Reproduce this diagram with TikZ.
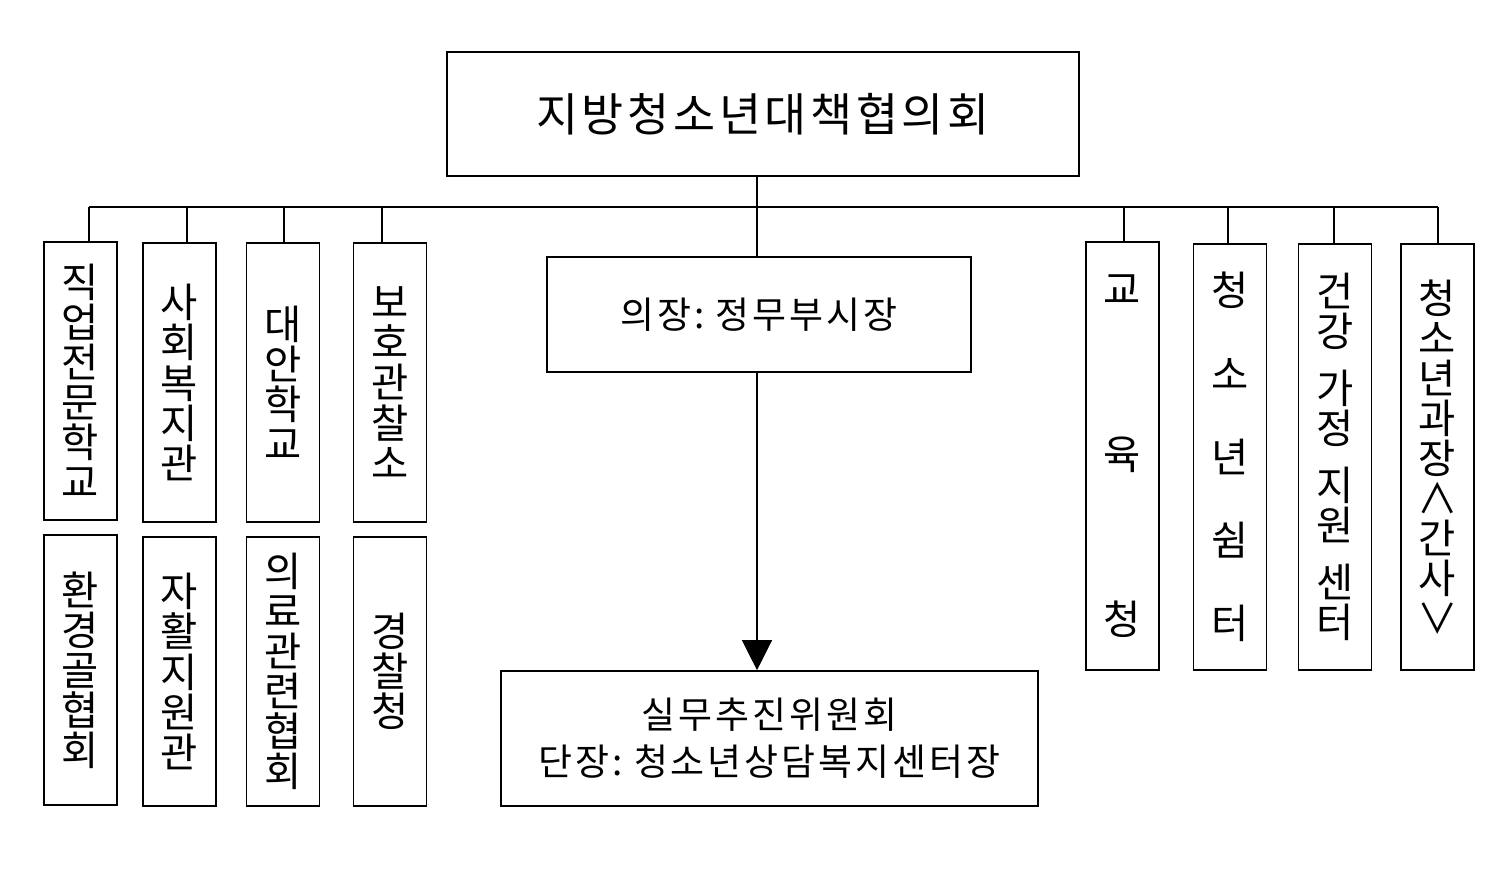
\documentclass[tikz,border=0pt]{standalone}
\usepackage{fontspec}
\newfontfamily\kr{Noto Sans CJK KR}
\newfontfamily\krwide[LetterSpace=8]{Noto Sans CJK KR}
\usetikzlibrary{arrows.meta}
\tikzset{
  box/.style={draw=black, line width=0.45pt, inner sep=0pt, align=center},
  vbox/.style={box, minimum width=0.73cm, font=\fontsize{11.5}{11.4}\selectfont\kr},
  link/.style={draw=black, line width=0.35pt}
}
\begin{document}
\begin{tikzpicture}[x=0.01cm, y=-0.01cm]
\useasboundingbox (0,0) rectangle (1512,893);
% top
\node[box, minimum width=6.32cm, minimum height=1.24cm,
      font=\fontsize{13}{15}\selectfont\krwide] (council) at (763,114) {지방청소년대책협의회};
\node[box, minimum width=4.24cm, minimum height=1.15cm,
      font=\fontsize{10.5}{12}\selectfont\krwide] (chair) at (759,314.5) {의장:\ 정무부시장};
\node[box, minimum width=5.37cm, minimum height=1.35cm,
      font=\fontsize{10.5}{13.3}\selectfont\krwide] (committee) at (769.5,738.5)
      {실무추진위원회\\단장:\ 청소년상담복지센터장};
% left, upper row
\node[vbox, minimum height=2.78cm] (jigup) at (80.5,381) {직\\업\\전\\문\\학\\교};
\node[vbox, minimum height=2.79cm] (bokji) at (179.5,382.5) {사\\회\\복\\지\\관};
\node[vbox, minimum height=2.79cm] (daean) at (283,382.5) {대\\안\\학\\교};
\node[vbox, minimum height=2.79cm] (boho) at (390,382.5) {보\\호\\관\\찰\\소};
% left, lower row
\node[vbox, minimum height=2.70cm] (hwangyeong) at (80.5,670) {환\\경\\골\\협\\회};
\node[vbox, minimum height=2.69cm] (jahwal) at (179.5,671.5) {자\\활\\지\\원\\관};
\node[vbox, minimum height=2.69cm] (uiryo) at (283,671.5) {의\\료\\관\\련\\협\\회};
\node[vbox, minimum height=2.69cm] (police) at (390,671.5) {경\\찰\\청};
% right
\node[vbox, minimum height=4.28cm] (edu) at (1122.5,456) {교\\[1.25cm]육\\[1.25cm]청};
\node[vbox, minimum height=4.26cm] (shelter) at (1230,457)
      {청\\[0.43cm]소\\[0.43cm]년\\[0.43cm]쉼\\[0.43cm]터};
\node[vbox, minimum height=4.26cm] (family) at (1335,457)
      {건\\강\\[0.17cm]가\\정\\[0.17cm]지\\원\\[0.17cm]센\\터};
\node[vbox, minimum height=4.26cm] (youth) at (1437.5,457) {청\\소\\년\\과\\장\\∧\\간\\사\\∨};
% bus
\coordinate (hub) at (757,207);
\coordinate (b1) at (89,207);
\coordinate (b2) at (187,207);
\coordinate (b3) at (284,207);
\coordinate (b4) at (382,207);
\coordinate (b5) at (1124,207);
\coordinate (b6) at (1228,207);
\coordinate (b7) at (1334,207);
\coordinate (b8) at (1438,207);
\draw[link] (b1) -- (b8);
\draw[link] (hub |- council.south) -- (hub |- chair.north);
\draw[link] (b1) -- (b1 |- jigup.north);
\draw[link] (b2) -- (b2 |- bokji.north);
\draw[link] (b3) -- (b3 |- daean.north);
\draw[link] (b4) -- (b4 |- boho.north);
\draw[link] (b5) -- (b5 |- edu.north);
\draw[link] (b6) -- (b6 |- shelter.north);
\draw[link] (b7) -- (b7 |- family.north);
\draw[link] (b8) -- (b8 |- youth.north);
\draw[link, -{Triangle[width=0.3cm, length=0.3cm]}] (hub |- chair.south) -- (hub |- committee.north);
\end{tikzpicture}
\end{document}
